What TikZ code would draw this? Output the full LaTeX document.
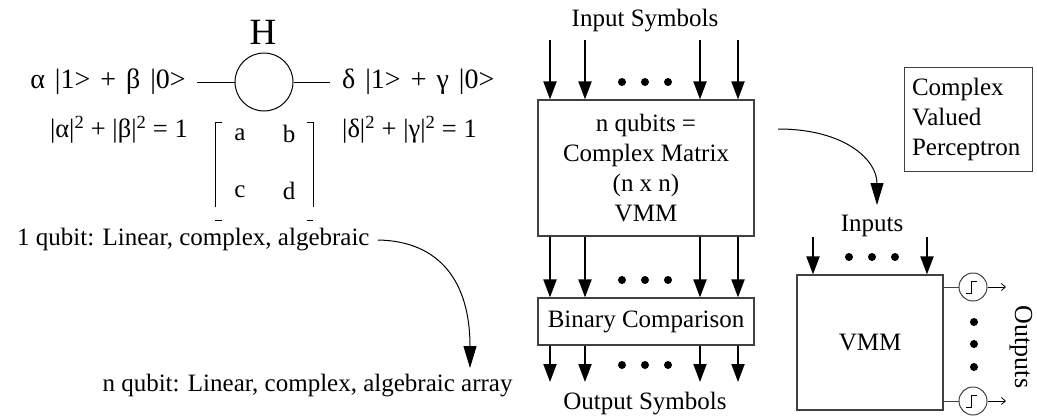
\documentclass[tikz,border=0pt]{standalone}
\usepackage{fontspec}
\setmainfont{Liberation Serif}
\usetikzlibrary{arrows.meta}
\newcommand{\gsp}{\hspace{10pt}}
\begin{document}
\begin{tikzpicture}[x=1pt,y=-1pt,
  txt/.style={font=\fontsize{25}{30}\selectfont, inner sep=0pt},
  eqtxt/.style={font=\fontsize{28}{30}\selectfont, inner sep=0pt},
  normtxt/.style={font=\fontsize{26.5}{30}\selectfont, inner sep=0pt},
  boxline/.style={draw=black!75, line width=1.2pt},
  bigarrow/.style={line width=2pt, -{Triangle[width=13pt,length=18pt]}},
  curvearrow/.style={line width=1pt, -{Triangle[width=13pt,length=22pt]}},
  wire/.style={line width=1pt},
  dotmark/.style={circle, fill=black, inner sep=0pt, minimum size=8pt},
  stepc/.style={circle, draw=black!75, line width=1pt, minimum size=28pt, inner sep=0pt},
  outarrow/.style={line width=0.8pt, -{Straight Barb[length=4pt,width=7pt]}}
]
\useasboundingbox (0,0) rectangle (1037,418);

% ---------- left: single qubit ----------
\node[font=\fontsize{37}{40}\selectfont, inner sep=0pt] (H) at (263,32) {H};
\node[circle, draw, line width=1pt, minimum size=58pt, inner sep=0pt] (gate) at (264,82) {};
\node[eqtxt, anchor=east] (psiin) at (186,82) {α\gsp|1>\gsp+\gsp β\gsp|0>};
\node[eqtxt, anchor=west] (psiout) at (342,82) {δ\gsp|1>\gsp+\gsp γ\gsp|0>};
\draw[wire] (psiin.east -| 197,0) -- (gate.west);
\draw[wire] (gate.east) -- (psiout.west -| 330,0);
\node[normtxt, anchor=east] (normin) at (188,130) {|α|\textsuperscript{2} + |β|\textsuperscript{2} = 1};
\node[normtxt, anchor=west] (normout) at (342,130) {|δ|\textsuperscript{2} + |γ|\textsuperscript{2} = 1};

% matrix
\node[txt] (ma) at (240,135) {a};
\node[txt] (mb) at (289,134) {b};
\node[txt] (mc) at (240,192) {c};
\node[txt] (md) at (289,191) {d};
\draw[wire] (222,122) -- (215,122) -- (215,207);
\draw[wire] (307,122) -- (313,122) -- (313,207);
\draw[wire] (215,220) -- (222,220);
\draw[wire] (307,220) -- (313,220);

\node[txt, anchor=west] (q1) at (17,240) {1 qubit: Linear, complex, algebraic};
\node[txt] (qn) at (307.5,386) {n qubit: Linear, complex, algebraic array};
\coordinate (q1s) at ([xshift=8pt]q1.east);
\coordinate (qnt) at (470,368);
\draw[curvearrow] (q1s) .. controls (440,241) and (470,282) .. (qnt);

% ---------- middle: n qubits ----------
\node[txt] (insym) at (645,21) {Input Symbols};
\node[boxline, minimum width=216pt, minimum height=136pt, inner sep=0pt,
      txt, align=center] (vmm1) at (646,168)
  {n qubits =\\Complex Matrix\\(n x n)\\VMM};
\node[boxline, minimum width=216pt, minimum height=47pt, inner sep=0pt, txt]
  (bin) at (646,321.5) {Binary Comparison};
\node[txt] (outsym) at (645,404) {Output Symbols};

\foreach \x [count=\i] in {550,585,700,738}{
  \coordinate (top\i) at (\x,40);
  \coordinate (bot\i) at (\x,382);
  \draw[bigarrow] (top\i) -- (top\i |- vmm1.north);
  \draw[bigarrow] (top\i |- vmm1.south) -- (top\i |- bin.north);
  \draw[bigarrow] (top\i |- bin.south) -- (bot\i);
}
\foreach \y [count=\j] in {82,280,365}{
  \node[dotmark] (da\j) at (622,\y) {};
  \node[dotmark] (db\j) at (645,\y) {};
  \node[dotmark] (dc\j) at (668,\y) {};
}

% ---------- right: perceptron ----------
\node[boxline, line width=1pt, txt, align=left, text width=112pt, inner xsep=8pt,
      minimum height=104pt] (cvp) at (968,119) {Complex\\Valued\\Perceptron};

\coordinate (cs) at (778,129);
\coordinate (ce) at (877,205);
\draw[curvearrow] (cs) .. controls (845,129) and (877,160) .. (ce);

\node[txt] (inputs) at (872,226) {Inputs};
\node[boxline, minimum width=146pt, minimum height=135pt, inner sep=0pt, txt]
  (vmm2) at (870,342.5) {VMM};
\coordinate (ia) at (813,237);
\coordinate (ib) at (927,237);
\draw[bigarrow] (ia) -- (ia |- vmm2.north);
\draw[bigarrow] (ib) -- (ib |- vmm2.north);
\node[dotmark] (ida) at (849,257) {};
\node[dotmark] (idb) at (872,257) {};
\node[dotmark] (idc) at (895,257) {};

\node[stepc] (s1) at (973,287) {};
\node[stepc] (s2) at (973,401) {};
\draw[draw=black!75, line width=1pt] (vmm2.east |- s1) -- (s1.west);
\draw[draw=black!75, line width=1pt] (vmm2.east |- s2) -- (s2.west);
\foreach \s in {s1,s2}{
  \draw[line width=0.9pt] ([shift={(-7,6)}]\s.center) -- ([shift={(-2,6)}]\s.center)
     -- ([shift={(-2,-6)}]\s.center) -- ([shift={(4,-6)}]\s.center);
}
\coordinate (o1) at (1006,287);
\coordinate (o2) at (1006,401);
\draw[outarrow] (s1.east) -- (o1);
\draw[outarrow] (s2.east) -- (o2);
\node[dotmark] (oda) at (974,322) {};
\node[dotmark] (odb) at (974,344) {};
\node[dotmark] (odc) at (974,367) {};
\node[font=\fontsize{26}{30}\selectfont, inner sep=0pt, rotate=-90] (outs) at (1021,347) {Outputs};
\end{tikzpicture}
\end{document}
